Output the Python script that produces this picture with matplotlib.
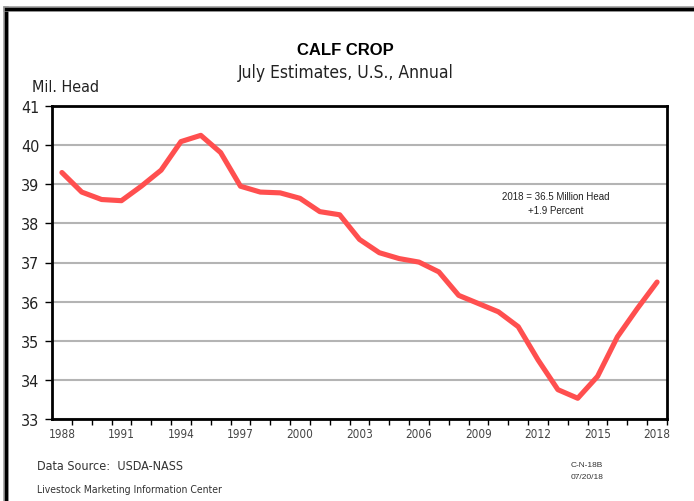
import matplotlib
matplotlib.use("Agg")
import matplotlib.pyplot as plt
from matplotlib import font_manager
from matplotlib.lines import Line2D

# Calf crop, July estimates, million head
years = list(range(1988, 2019))
calves = [39.30, 38.80, 38.61, 38.58, 38.95, 39.36, 40.09, 40.25, 39.81, 38.95,
          38.80, 38.78, 38.64, 38.30, 38.22, 37.59, 37.25, 37.10, 37.01, 36.76,
          36.16, 35.95, 35.74, 35.36, 34.51, 33.75, 33.53, 34.09, 35.10, 35.82,
          36.50]
y_ticks = list(range(33, 42))
x_labels = [str(y) for y in range(1988, 2019, 3)]

# pick a narrow face for the labels if one is installed
fonts = font_manager.fontManager.ttflist
names = {f.name for f in fonts}
if "Liberation Sans Narrow" in names:
    narrow = dict(family=["Liberation Sans Narrow", "DejaVu Sans"])
elif any(f.name == "DejaVu Sans" and f.stretch == "condensed" for f in fonts):
    narrow = dict(family=["DejaVu Sans"], stretch="condensed")
else:
    narrow = dict(family=["Roboto", "DejaVu Sans"])
plain = dict(family=["Liberation Sans", "DejaVu Sans"])

fig = plt.figure(figsize=(6.94, 5.02), dpi=100)
ax = fig.add_axes([52 / 694, 1 - 420 / 502, 615 / 694, 313 / 502])

x = list(range(len(years)))
ax.plot(x, calves, color="#ff4f4f", lw=3.7, solid_joinstyle="round",
        solid_capstyle="round", zorder=3)

ax.set_xlim(-0.5, len(years) - 0.5)
ax.set_ylim(33, 41)
ax.set_yticks(y_ticks)
ax.set_yticklabels([str(v) for v in y_ticks], fontsize=11.5, color="#222222",
                   **narrow)
ax.grid(axis="y", color="#b4b4b4", lw=1.5, zorder=1)
ax.set_axisbelow(True)

# one tick per year, labels every third year
ax.set_xticks([i + 0.5 for i in x[:-1]] + [len(years) - 0.5], minor=True)
ax.set_xticks(x[::3])
ax.set_xticklabels(x_labels, fontsize=8.5, color="#444444", **narrow)
ax.tick_params(axis="x", which="major", length=0, pad=6)
ax.tick_params(axis="x", which="minor", length=4, width=1, direction="out")
ax.tick_params(axis="y", length=5, width=1, direction="out", pad=4)
for s in ax.spines.values():
    s.set_linewidth(2)
    s.set_color("black")

ax.text(0.8195, 0.69, "2018 = 36.5 Million Head\n+1.9 Percent",
        transform=ax.transAxes, ha="center", va="center", fontsize=7,
        linespacing=1.5, color="#222222", **plain)

fig.text(0.498, 0.900, "CALF CROP", ha="center", va="center", fontsize=12,
         fontweight="bold", **plain)
fig.text(0.498, 0.855, "July Estimates, U.S., Annual", ha="center", va="center",
         fontsize=12.5, color="#222222", **narrow)
fig.text(32 / 694, 1 - 87 / 502, "Mil. Head", ha="left", va="center",
         fontsize=11.5, color="#222222", **narrow)
fig.text(37 / 694, 1 - 467 / 502, "Data Source:  USDA-NASS", ha="left",
         va="center", fontsize=9, color="#333333", **narrow)
fig.text(37 / 694, 1 - 490 / 502, "Livestock Marketing Information Center",
         ha="left", va="center", fontsize=7.5, color="#333333", **narrow)
fig.text(571 / 694, 1 - 466 / 502, "C-N-18B", ha="left", va="center",
         fontsize=6, color="#333333", **plain)
fig.text(571 / 694, 1 - 478 / 502, "07/20/18", ha="left", va="center",
         fontsize=6, color="#333333", **plain)

# page frame: left and top edges only
for xs, ys in [([5.5 / 694, 5.5 / 694], [0, 1 - 9.5 / 502]),
               ([5.5 / 694, 1], [1 - 9.5 / 502, 1 - 9.5 / 502])]:
    fig.add_artist(Line2D(xs, ys, transform=fig.transFigure, color="#999999",
                          lw=4, solid_capstyle="projecting"))
    fig.add_artist(Line2D(xs, ys, transform=fig.transFigure, color="black",
                          lw=2.4, solid_capstyle="projecting"))

fig.savefig("out.png", dpi=100)
